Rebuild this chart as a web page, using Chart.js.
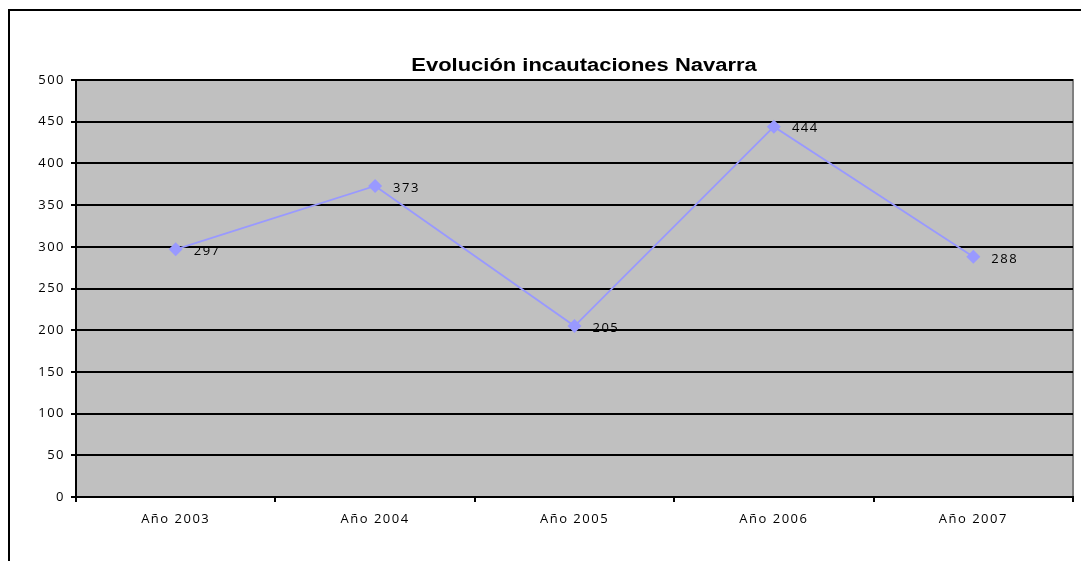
<!DOCTYPE html>
<html>
<head>
<meta charset="utf-8">
<script src="https://cdn.jsdelivr.net/npm/chart.js@4/dist/chart.umd.min.js"></script>
<style>
html,body{margin:0;padding:0;background:#fff;}
#wrap{width:1081px;height:561px;position:relative;}
</style>
</head>
<body>
<div id="wrap"><canvas id="c" width="1081" height="561"></canvas></div>
<script>
const categories = ["Año 2003", "Año 2004", "Año 2005", "Año 2006", "Año 2007"];
const seizures = [297, 373, 205, 444, 288];
const chartTitle = "Evolución incautaciones Navarra";

const decor = {
  id: 'decor',
  beforeDraw(chart) {
    const ctx = chart.ctx, a = chart.chartArea;
    ctx.save();
    ctx.fillStyle = '#ffffff';
    ctx.fillRect(0, 0, chart.width, chart.height);
    ctx.strokeStyle = '#000';
    ctx.lineWidth = 2;
    ctx.beginPath();
    ctx.moveTo(9, 570); ctx.lineTo(9, 10); ctx.lineTo(1090, 10);
    ctx.stroke();
    ctx.fillStyle = '#C0C0C0';
    ctx.fillRect(a.left, a.top, a.right - a.left, a.bottom - a.top);
    ctx.strokeStyle = '#808080';
    ctx.lineWidth = 2;
    ctx.beginPath();
    ctx.moveTo(a.left, a.top); ctx.lineTo(a.right, a.top); ctx.lineTo(a.right, a.bottom);
    ctx.stroke();
    ctx.restore();
    ctx.letterSpacing = '1.5px';
  },
  afterDraw(chart) {
    const ctx = chart.ctx;
    ctx.save();
    ctx.letterSpacing = '0px';
    ctx.fillStyle = '#000';
    ctx.font = 'bold 18px "Liberation Sans", Arial, sans-serif';
    ctx.textAlign = 'center';
    ctx.textBaseline = 'middle';
    ctx.translate(584, 66);
    ctx.scale(1.22, 1);
    ctx.fillText(chartTitle, 0, 0);
    ctx.restore();
    ctx.save();
    ctx.letterSpacing = '1.5px';
    ctx.fillStyle = '#000';
    ctx.font = '13px "Open Sans", sans-serif';
    ctx.textAlign = 'left';
    ctx.textBaseline = 'middle';
    const meta = chart.getDatasetMeta(0);
    meta.data.forEach((p, i) => {
      ctx.fillText(String(seizures[i]), p.x + 18, p.y + 2);
    });
    ctx.restore();
  }
};

new Chart(document.getElementById('c'), {
  type: 'line',
  data: {
    labels: categories,
    datasets: [{
      data: seizures,
      borderColor: '#9999FF',
      backgroundColor: '#9999FF',
      borderWidth: 1.8,
      pointStyle: 'rectRot',
      pointRadius: 7,
      pointHoverRadius: 7,
      pointBorderWidth: 0,
      tension: 0
    }]
  },
  options: {
    responsive: false,
    animation: false,
    devicePixelRatio: 1,
    layout: { padding: { top: 80, right: 8, left: 0, bottom: 0 } },
    plugins: { legend: { display: false }, title: { display: false }, tooltip: { enabled: false } },
    scales: {
      x: {
        type: 'category',
        offset: true,
        grid: { offset: true, drawOnChartArea: false, drawTicks: true, tickLength: 5, color: '#000', lineWidth: 2 },
        border: { color: '#000', width: 2 },
        ticks: { color: '#000', font: { family: '"Open Sans", sans-serif', size: 13 }, padding: 9, maxRotation: 0 },
        afterFit(s) { s.height = 64; }
      },
      y: {
        min: 0, max: 500,
        grid: { color: '#000', lineWidth: 2, drawTicks: true, tickLength: 5 },
        border: { color: '#000', width: 2 },
        ticks: { stepSize: 50, color: '#000', font: { family: '"Open Sans", sans-serif', size: 13 }, padding: 6 },
        afterFit(s) { s.width = 76; }
      }
    }
  },
  plugins: [decor]
});
</script>
</body>
</html>
